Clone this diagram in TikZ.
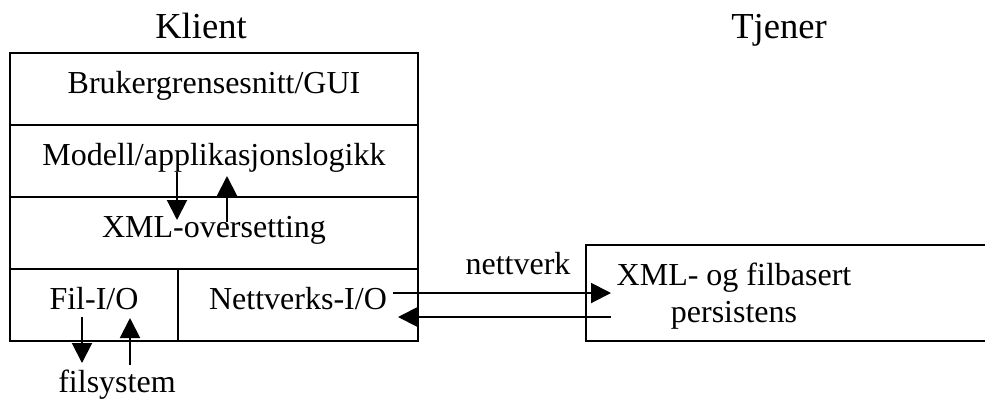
\documentclass[tikz,border=0pt]{standalone}
\usepackage{fontspec}
\setmainfont{Liberation Serif}
\usetikzlibrary{arrows.meta}

\tikzset{
    layer/.style={draw, line width=1pt, minimum height=36pt, inner sep=0pt, text height=9pt, text depth=5pt},
    flow/.style={line width=1pt, -{Triangle[length=10pt,width=10pt]}},
    title/.style={anchor=base, font=\fontsize{18.3}{22}\selectfont},
}

\begin{document}
\begin{tikzpicture}[x=0.5pt, y=-0.5pt, font=\fontsize{16}{18.5}\selectfont]
    \useasboundingbox (0,0) rectangle (985,398);

    \node[title] (klient) at (201,38) {Klient};
    \node[title] (tjener) at (779,38) {Tjener};

    % klient-lagene
    \node[layer, minimum width=204pt] (gui) at (214,89) {Brukergrensesnitt/GUI};
    \node[layer, minimum width=204pt] (modell) at (214,161) {Modell/applikasjonslogikk};
    \node[layer, minimum width=204pt] (xml) at (214,233) {XML-oversetting};
    \node[layer, minimum width=84pt] (filio) at (94,305) {Fil-I/O};
    \node[layer, minimum width=120pt] (nettio) at (298,305) {Nettverks-I/O};

    % tjener
    \node[layer, minimum width=203pt, minimum height=48pt] (lager) at (789,293) {};
    \node[align=center] (persist) at (734,296) {XML- og filbasert\\persistens};

    \node[anchor=base] (nettverk) at (518,274) {nettverk};
    \node[anchor=base] (filsystem) at (117,392) {filsystem};

    \coordinate (m1) at (177,172);
    \coordinate (x1) at (177,220);
    \coordinate (x2) at (227,222);
    \coordinate (m2) at (227,176);
    \coordinate (f1) at (82,317);
    \coordinate (s1) at (82,363);
    \coordinate (s2) at (130,365);
    \coordinate (f2) at (130,318);
    \coordinate (n1) at (393,293);
    \coordinate (t1) at (611,293);
    \coordinate (t2) at (611,317);
    \coordinate (n2) at (398,317);

    \draw[flow] (m1) -- (x1);
    \draw[flow] (x2) -- (m2);
    \draw[flow] (f1) -- (s1);
    \draw[flow] (s2) -- (f2);
    \draw[flow] (n1) -- (t1);
    \draw[flow] (t2) -- (n2);
\end{tikzpicture}
\end{document}
